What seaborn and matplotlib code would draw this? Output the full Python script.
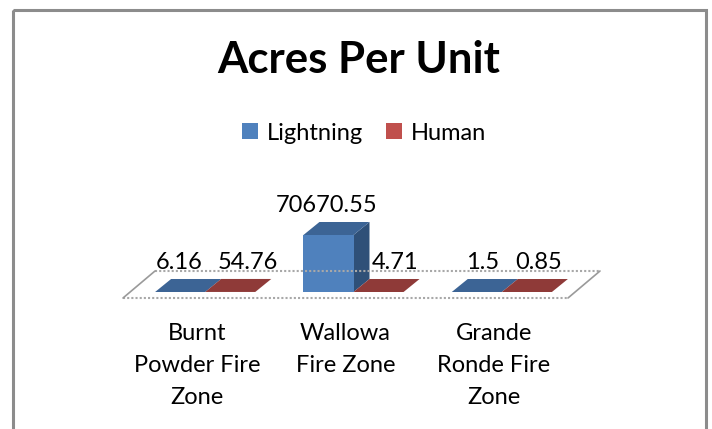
import matplotlib
matplotlib.use("Agg")
import matplotlib.pyplot as plt
import pandas as pd
import seaborn as sns
from matplotlib.patches import Polygon, Rectangle
from matplotlib.lines import Line2D
from matplotlib.transforms import Affine2D, IdentityTransform, ScaledTranslation

zones = ["Burnt\nPowder Fire\nZone", "Wallowa\nFire Zone", "Grande\nRonde Fire\nZone"]
series = ["Lightning", "Human"]
lightning = [6.16, 70670.55, 1.5]
human = [54.76, 4.71, 0.85]
lightning_text = ["6.16", "70670.55", "1.5"]
human_text = ["54.76", "4.71", "0.85"]
title = "Acres Per Unit"

W, H = 712, 429
FONT = "Lato"
sns.set_style("white")
plt.rcParams["font.family"] = [FONT, "DejaVu Sans"]

front_col = {"Lightning": "#4f81bd", "Human": "#c0504d"}
top_col = {"Lightning": "#3c6495", "Human": "#8f3a38"}
side_col = {"Lightning": "#2f5078", "Human": "#7a302e"}

df = pd.DataFrame({
    "zone": zones * 2,
    "series": [series[0]] * 3 + [series[1]] * 3,
    "value": lightning + human,
})

fig = plt.figure(figsize=(W / 100, H / 100), dpi=100, facecolor="white")
px = Affine2D().scale(1 / W, -1 / H).translate(0, 1) + fig.transFigure

# plot area: x 131..576, y from floor 292 up to 172
ax = fig.add_axes([131 / W, 1 - 292 / H, 445 / W, 120 / H])
sns.barplot(data=df, x="zone", y="value", hue="series", hue_order=series,
            palette=front_col, width=0.675, gap=0, saturation=1, ax=ax,
            errorbar=None, legend=True, zorder=3, edgecolor="none", linewidth=0)
ax.set_xlim(-0.5, 2.5)
ax.set_ylim(0, max(lightning) * 120 / 57)
ax.patch.set_alpha(0)
for s in ax.spines.values():
    s.set_visible(False)
ax.set_yticks([])
ax.set_xlabel("")
ax.set_ylabel("")

# tick labels are anchored on the front of the floor
shift = ScaledTranslation(-8 / 100, 0, fig.dpi_scale_trans)
ax.tick_params(axis="x", length=0, pad=22)
for lab in ax.get_xticklabels():
    lab.set_fontsize(17)
    lab.set_linespacing(1.67)
    lab.set_color("black")
    lab.set_transform(lab.get_transform() + shift)

# floor of the 3-D box
floor_style = dict(color="#a8a8a8", lw=1.5, ls=(0, (1, 1)), transform=px, zorder=1)
fig.add_artist(Line2D([123, 568], [298, 298], **floor_style))
fig.add_artist(Line2D([155, 600], [271, 271], **floor_style))
wall_style = dict(color="#9a9a9a", lw=1.2, transform=px, zorder=1)
fig.add_artist(Line2D([123, 155], [298, 271], **wall_style))
fig.add_artist(Line2D([568, 600], [298, 271], **wall_style))

# depth faces derived from the drawn bars
fig.canvas.draw()
DX, DY = 16, 13
for cont, name in zip(ax.containers, series):
    for p in cont.patches:
        b = p.get_window_extent()
        x0, x1, y0, y1 = b.x0, b.x1, b.y0, b.y1
        ax.add_patch(Polygon([(x0, y1), (x1, y1), (x1 + DX, y1 + DY), (x0 + DX, y1 + DY)],
                             closed=True, fc=top_col[name], ec="none",
                             transform=IdentityTransform(), zorder=2.5, clip_on=False))
        ax.add_patch(Polygon([(x1, y0), (x1, y1), (x1 + DX, y1 + DY), (x1 + DX, y0 + DY)],
                             closed=True, fc=side_col[name], ec="none",
                             transform=IdentityTransform(), zorder=2.4, clip_on=False))

# data labels
label_nudge = {"Lightning": [(-1, 29), (-2, 29), (6, 29)],
               "Human": [(18, 29), (17, 29), (12, 29)]}
label_text = {"Lightning": lightning_text, "Human": human_text}
for cont, name in zip(ax.containers, series):
    for p, s, (dx, dy) in zip(cont.patches, label_text[name], label_nudge[name]):
        ax.annotate(s, (p.get_x() + p.get_width() / 2, p.get_height()),
                    xytext=(dx * 0.72, dy * 0.72), textcoords="offset points",
                    ha="center", va="center", fontsize=17, color="black",
                    annotation_clip=False, zorder=6)

# title
fig.text(359 / W, 1 - 60 / H, title, ha="center", va="center",
         fontsize=31.5, fontweight="bold", color="black")

# legend
sns.move_legend(ax, "center", bbox_to_anchor=(364 / W, 1 - 133 / H),
                bbox_transform=fig.transFigure, ncol=2, frameon=False, title=None,
                fontsize=17, handlelength=0.68, handleheight=0.68,
                handletextpad=0.34, columnspacing=1.0, borderpad=0)
for t in ax.get_legend().get_texts():
    t.set_color("black")

# chart frame
fig.add_artist(Rectangle((13, 10), 693, 440, fill=False, ec="#8c8c8c", lw=2.2,
                         transform=px, zorder=0))

fig.savefig("out.png", dpi=100)
